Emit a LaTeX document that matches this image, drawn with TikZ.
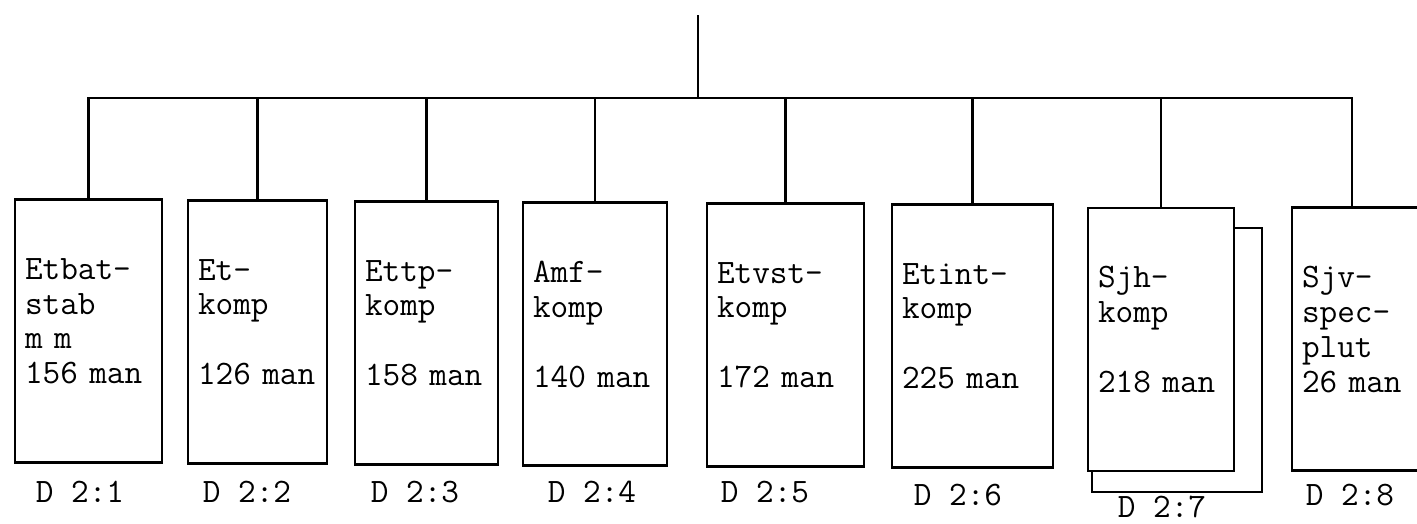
\documentclass[tikz,border=0pt]{standalone}
\usepackage{fontspec}
\newcommand{\orgfont}{\ttfamily\fontsize{19.5pt}{19.9pt}\selectfont}

\begin{document}
\begin{tikzpicture}[x=0.02cm,y=-0.02cm,line width=1.2pt,
unit/.style={draw,
fill=white,
inner xsep=0.2cm,
minimum height=5.26cm,
align=left,
font=\orgfont
},
tag/.style={font=\orgfont}]
\useasboundingbox (0,0) rectangle (1417,524);
\coordinate (root) at (698,15);
\coordinate (bus) at (698,98);
\node[unit,text width=2.54cm]at(88.5,331)(stab){Etbat-\\stab\\m m\\156 man\\[-0.3cm]\mbox{}};
\node[unit,text width=2.38cm]at(257.5,332)(etkomp){Et-\\komp\\[0.7cm]126 man\\[-0.3cm]\mbox{}};
\node[unit,text width=2.46cm]at(426.5,333)(ttp){Ettp-\\komp\\[0.7cm]158 man\\[-0.3cm]\mbox{}};
\node[unit,text width=2.48cm]at(595,334)(amf){Amf-\\komp\\[0.7cm]140 man\\[-0.3cm]\mbox{}};
\node[unit,text width=2.74cm]at(785.5,335)(vst){Etvst-\\komp\\[0.7cm]172 man\\[-0.3cm]\mbox{}};
\node[unit,text width=2.82cm]at(972.5,336)(int){Etint-\\komp\\[0.7cm]225 man\\[-0.3cm]\mbox{}};
\node[draw,minimum width=3.4cm,minimum height=5.28cm]at(1177,360)(sjhback){};
\node[unit,text width=2.52cm]at(1161,339.5)(sjh){Sjh-\\komp\\[0.7cm]218 man\\[-0.3cm]\mbox{}};
\node[unit,text width=2.96cm]at(1376,339)(sjv){Sjv-\\spec-\\plut\\26 man\\[-0.3cm]\mbox{}};
\node[tag]at(80,492)(dstab){D 2:1};
\node[tag]at(247,492)(detkomp){D 2:2};
\node[tag]at(415,492)(dttp){D 2:3};
\node[tag]at(592,492)(damf){D 2:4};
\node[tag]at(765,492)(dvst){D 2:5};
\node[tag]at(958,495)(dint){D 2:6};
\node[tag]at(1162,507)(dsjh){D 2:7};
\node[tag]at(1350,495)(dsjv){D 2:8};
\draw (root) -- (bus);
\draw (stab.north) |- (bus) -| ([xshift=-0.48cm]sjv.north);
\foreach \n in {etkomp,ttp,amf,vst,int,sjh}
\draw (\n.north) -- (\n.north |- bus);
\end{tikzpicture}
\end{document}
